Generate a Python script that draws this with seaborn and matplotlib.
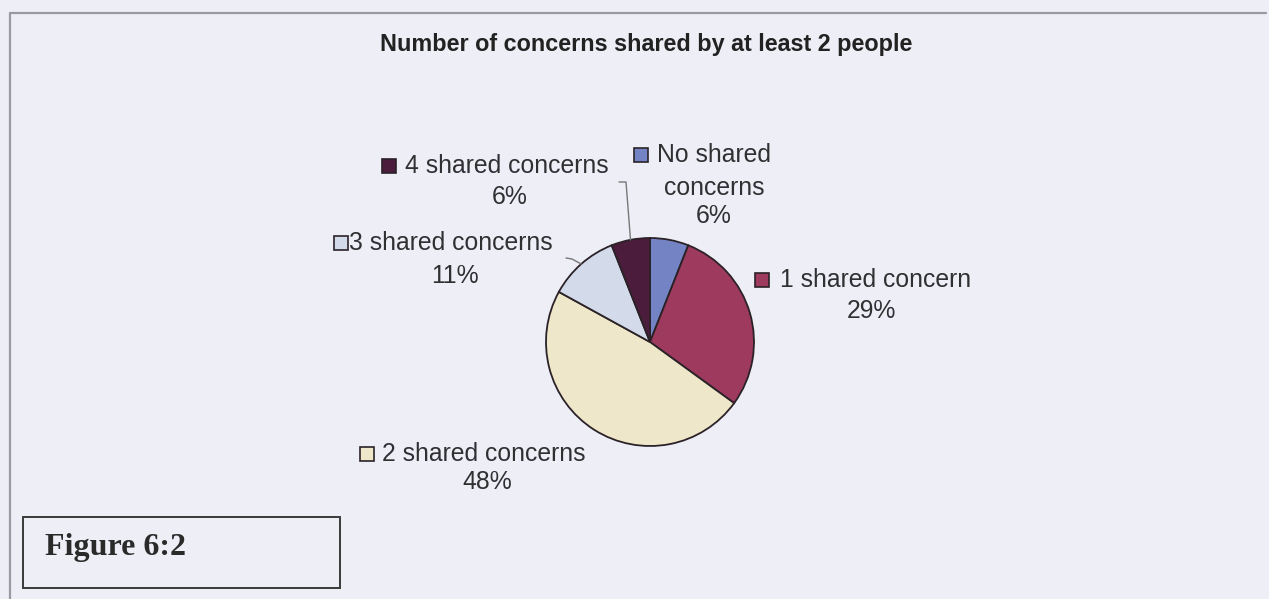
import matplotlib
matplotlib.use("Agg")
import matplotlib.pyplot as plt
from matplotlib.patches import Rectangle
import numpy as np
import seaborn as sns

# data
categories = ["No shared concerns", "1 shared concern", "2 shared concerns",
              "3 shared concerns", "4 shared concerns"]
label_lines = [["No shared", "concerns"], ["1 shared concern"], ["2 shared concerns"],
               ["3 shared concerns"], ["4 shared concerns"]]
percents = [6, 29, 48, 11, 6]
title = "Number of concerns shared by at least 2 people"
caption = "Figure 6:2"

colors = ["#7383c4", "#9e3a5e", "#efe7c9", "#d3dbea", "#4b1c3c"]

sns.set_theme(style="white")
plt.rcParams["font.family"] = ["Liberation Sans", "DejaVu Sans"]

W, H = 1269, 599
bg = "#eeeef6"
fig = plt.figure(figsize=(W / 100, H / 100), dpi=100, facecolor=bg)
ax = fig.add_axes([0, 0, 1, 1])
ax.set_facecolor(bg)


def Y(py):
    # pixel row (from top) -> data y
    return H - py


cx, cy, r = 650, Y(342), 104
wedges, _ = ax.pie(percents, colors=colors, startangle=90, counterclock=False,
                   center=(cx, cy), radius=r, frame=True,
                   wedgeprops=dict(edgecolor="#2b2228", linewidth=1.3))
ax.set_xlim(0, W)
ax.set_ylim(0, H)
ax.set_aspect("equal")
ax.axis("off")

# outer chart frame (top and left edges visible in the scan)
ax.plot([10, 1266], [Y(13), Y(13)], color="#9a9aa2", lw=1.6)
ax.plot([10, 10], [Y(13), 0], color="#9a9aa2", lw=1.6)

ax.text(646, Y(45), title, ha="center", va="center", fontsize=16.8,
        fontweight="bold", color="#222222")

# label layout: (square x, first-line y, text x, percent x, percent y)
layout = [
    (634, 155, 657, 714, 216),
    (755, 280, 780, 871, 311),
    (360, 454, 382, 487, 482),
    (334, 243, 349, 455, 276),
    (382, 166, 405, 510, 197),
]
fs = 17.8
txt_col = "#303033"
for i, (sx, ly, tx, px, py) in enumerate(layout):
    ax.add_patch(Rectangle((sx, Y(ly) - 7), 14, 14, facecolor=colors[i],
                           edgecolor="#2b2228", lw=1.2, zorder=5))
    lines = label_lines[i]
    ax.text(tx, Y(ly), lines[0], ha="left", va="center", fontsize=fs, color=txt_col)
    for k, extra in enumerate(lines[1:]):
        ax.text(px, Y(ly + 33 * (k + 1)), extra, ha="center", va="center",
                fontsize=fs, color=txt_col)
    ax.text(px, Y(py), f"{percents[i]}%", ha="center", va="center",
            fontsize=fs, color=txt_col)


def edge_point(w):
    mid = np.deg2rad((w.theta1 + w.theta2) / 2)
    return cx + r * np.cos(mid), cy + r * np.sin(mid)


# leader lines for the two small slices on the left
ex, ey = edge_point(wedges[4])
ax.plot([619, 626, ex], [Y(182), Y(182), ey], color="#777777", lw=1.0)
ex, ey = edge_point(wedges[3])
ax.plot([566, 572, ex], [Y(258), Y(259), ey], color="#777777", lw=1.0)

# caption box
ax.add_patch(Rectangle((23, Y(588)), 317, 71, facecolor="none",
                       edgecolor="#3a3a3a", lw=1.4))
ax.text(45, Y(548), caption, ha="left", va="center", fontsize=23,
        fontweight="bold", family="Liberation Serif", color="#2a2a2a")

fig.savefig("out.png", dpi=100, facecolor=bg)
